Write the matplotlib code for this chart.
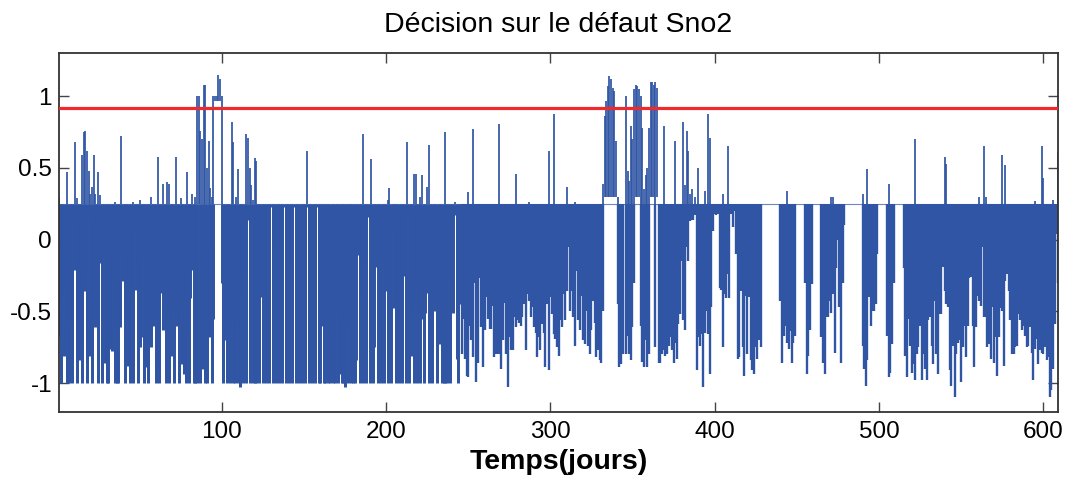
import numpy as np
import matplotlib
matplotlib.use("Agg")
import matplotlib.pyplot as plt

plt.rcParams['font.family'] = ['Liberation Sans', 'DejaVu Sans']
plt.rcParams['axes.unicode_minus'] = False

title = "Décision sur le défaut Sno2"
xlabel = "Temps(jours)"
BASE = 0.25
THRESHOLD = 0.92

# daily minimum of the decision signal (day 1 .. 609)
low = [
    -0.67, -1, -0.38, -0.81, -0.34, -1, -1, -0.57, -1, 0.15,
    -0.21, -1, -0.84, -0.68, -1, -0.36, -0.21, -1, 0.15, -0.81,
    -1, -0.54, -0.61, -0.33, -1, -0.16, -1, -0.10, -0.86, -1,
    -1, -0.76, -0.78, -0.24, -1, -1, -1, -0.61, -0.12, -0.29,
    -1, -0.52, -0.88, -1, -0.42, -1, 0.06, -0.35, -1, -0.75,
    -0.68, -0.13, -1, -0.89, -1, -0.68, -0.75, -0.6, -0.37, -1,
    -0.87, -1, -0.37, -0.63, -0.48, -1, -0.52, -1, -0.81, 0.13,
    -1, -0.53, -0.6, -1, -0.43, -0.87, -0.94, -1, -0.68, -1,
    -0.41, -0.21, -1, -1, -1, 0.25, -1, -0.9, -0.2, -1,
    -1, -0.68, -0.08, -1, -0.55, 0.97, 0.97, 0.97, 0.97, -0.3,
    -1, -0.7, -1, -0.66, -1, -0.58, -1, -1, 0.0, -1,
    -1.03, -0.39, -1, -0.21, -1, 0.14, -1, 0.19, -1, -1,
    -1, -0.56, -1, -0.4, -1, -0.38, -1, 0.23, -1, 0.23,
    -1, -0.07, -1, 0.23, -1, 0.23, -1, 0.23, -1, 0.23,
    -1, -0.14, -1, 0.23, -1, 0.23, -1, 0.23, -1, 0.23,
    -1, 0.23, -1, 0.23, -1, 0.23, -1, 0.23, -1, -1,
    -0.6, -1, -1, -0.86, -1, -1, -0.76, -1, -1, -0.52,
    -1, -0.94, -1, -1, -1.03, -0.38, -1, -0.61, -1, -1,
    -1, -0.84, -0.11, -1, -0.41, -1, -0.12, -1, 0.16, -1,
    -0.68, -1, -0.75, -0.19, -1, -0.6, -1, -0.19, -1, -0.36,
    -1, -0.51, -1, 0.06, -0.48, -1, -0.56, -1, -0.58, -1,
    -0.25, -1, 0.17, -1, -0.48, -0.81, -1, -0.32, -1, -0.48,
    -1, -0.55, -1, -0.51, -0.37, -1, -0.63, -1, -0.5, -0.22,
    -1, -0.59, -0.73, -1, -1, -1, -1, -0.26, -1, -0.34,
    -0.51, 0.17, -0.83, -1, -0.45, -0.8, -0.55, -0.83, -0.95, -0.96,
    -0.6, -0.7, -0.82, -0.3, -0.99, -0.86, -0.27, -0.61, -0.89, -0.63,
    -0.4, -0.55, -0.62, -0.62, -0.46, -0.82, -0.8, -0.8, -0.8, -0.9,
    -0.7, -0.44, -0.8, -1.03, -0.68, -0.77, -0.77, -0.54, -0.61, -0.56,
    -0.58, -0.6, -0.54, -0.45, -0.77, -0.38, -0.43, -0.54, -0.47, -0.61,
    -0.65, -0.82, -0.68, -0.77, -0.59, -0.65, -0.89, -0.45, -0.91, -0.4,
    -0.52, -0.66, -0.69, -0.75, -0.81, -0.56, -0.61, -0.38, -0.56, -0.36,
    -0.05, -0.5, -0.36, -0.54, -0.74, -0.22, -0.56, -0.63, -0.39, -0.7,
    -0.73, -0.5, -0.74, -0.8, -0.63, -0.43, -0.58, -0.82, -0.77, -0.84,
    -0.86, -0.5, 0.3, 0.3, 0.3, 0.3, 0.3, 0.3, 0.3, 0.3,
    -0.45, -0.89, -0.87, -0.8, 0.3, -0.8, -0.67, -0.8, -0.84, -0.61,
    -0.3, 0.3, 0.3, 0.3, -0.6, -0.85, -0.89, -0.7, -0.89, -0.8,
    0.3, 0.3, 0.3, -0.75, 0.3, -0.86, -0.86, -0.8, -0.77, -0.81,
    -0.8, -0.74, -0.68, -0.77, -0.86, -0.72, -0.83, -0.59, -0.52, -0.15,
    -0.56, -0.63, -0.05, -0.15, 0.13, 0.14, 0.14, 0.17, -0.91, -0.68,
    -0.74, -0.66, -1.03, -0.65, -0.5, -0.66, -0.94, -0.47, 0.06, 0.18,
    0.17, 0.18, -0.34, -0.35, -0.75, -0.38, -0.41, -0.24, -0.41, 0.18,
    0.09, 0.2, -0.1, -0.83, -0.82, -0.36, -0.75, -0.95, -0.39, -0.8,
    -0.4, -0.84, -0.91, -0.94, -0.75, -0.83, -0.7, -0.75, 0.25, 0.25,
    0.25, 0.25, 0.25, 0.25, 0.25, 0.25, 0.25, 0.25, 0.25, -0.43,
    -0.86, -0.67, -0.6, -0.72, -0.76, -0.64, -0.86, -0.72, -0.67, 0.25,
    0.25, 0.25, 0.25, 0.25, -0.3, -0.94, -0.81, -0.63, -0.31, 0.25,
    0.25, 0.25, 0.25, 0.25, -0.68, -0.86, -0.94, -0.54, -0.54, -0.43,
    -0.51, -0.38, -0.79, -0.2, 0.0, -0.47, -0.86, -0.3, 0.1, 0.25,
    0.25, 0.25, 0.25, 0.25, 0.25, 0.25, 0.25, 0.25, 0.25, -0.74,
    -0.9, -1.02, -0.84, -0.4, -0.6, -0.5, -0.5, -0.45, -0.1, 0.25,
    0.25, 0.25, 0.25, 0.25, -0.67, -0.96, -0.93, -0.73, -0.3, 0.25,
    0.25, 0.25, 0.25, 0.25, -0.2, -0.81, -0.96, -0.55, -0.74, -0.93,
    -0.87, -0.98, -0.8, -0.75, -0.6, -0.98, -0.8, -0.9, -0.98, -0.56,
    -0.54, -0.74, -0.87, -0.43, -0.8, -0.94, -0.52, -0.52, -0.19, -0.36,
    -0.45, -0.47, -0.91, -1.02, -0.74, -1.1, -0.8, -0.72, -0.7, -0.99,
    -0.75, -0.6, -0.82, -0.6, -0.27, -0.26, -0.6, -0.89, -0.61, -0.39,
    -0.43, -0.46, -0.05, -0.54, -0.54, -0.75, -0.73, -0.83, -0.47, -0.86,
    -0.68, -0.95, -0.68, -0.48, -0.5, -0.88, -0.29, -0.24, -0.36, -0.56,
    -0.8, -0.8, -0.75, -0.74, -0.52, -0.56, -0.63, -0.6, -0.67, -0.75,
    -0.74, -0.61, -0.79, -0.98, -0.76, -0.69, -0.87, -0.77, -0.79, -0.8,
    -0.75, -0.84, -0.82, -1.1, -1.05, -0.9, -0.59, 0.04, -0.3,
]

# days where the signal rises above its resting level, and the peak value
peak_day = [1, 6, 11, 12, 15, 16, 17, 18, 19, 20, 21, 22, 23, 25, 26, 35, 39, 46, 50, 57,
            61, 64, 67, 68, 72, 75, 79, 82,
            84, 85, 86, 87, 88, 89, 90, 91, 92, 93, 94, 95, 96, 97, 98, 99, 100,
            106, 107, 109, 110, 115, 116, 117, 118, 119, 120, 121, 152,
            186, 191, 201, 202, 213, 217, 218, 221, 222, 225, 226, 236, 242, 250, 253,
            269, 279, 287, 299, 302, 310, 315,
            332, 333, 334, 335, 336, 337, 338, 339, 340, 341,
            346, 347, 348, 349, 350, 351, 352, 353, 354, 355, 356, 357, 358, 359, 360,
            361, 362, 363, 364, 365,
            369, 376, 381, 382, 383, 384, 385, 386, 388, 390, 394, 396, 397, 405, 408,
            444, 471, 472, 490, 493, 506, 522,
            540, 541, 561, 564, 565, 575, 577, 595, 599, 600, 606, 609]
peak_val = [0.30, 0.47, 0.68, 0.29, 0.59, 0.75, 0.76, 0.62, 0.48, 0.32, 0.37, 0.59, 0.32, 0.47,
            0.31, 0.26, 0.72, 0.26, 0.28, 0.30, 0.58, 0.39, 0.40, 0.39, 0.58, 0.29, 0.47, 0.32,
            0.30, 1.00, 1.00, 0.76, 0.70, 1.08, 1.08, 0.50, 0.69, 0.36, 0.30, 1.00, 1.00, 1.00,
            1.15, 1.12, 1.00,
            0.82, 0.68, 0.30, 0.49, 0.74, 0.71, 0.50, 0.38, 0.28, 0.57, 0.55, 0.62,
            0.74, 0.56, 0.28, 0.36, 0.68, 0.46, 0.46, 0.30, 0.45, 0.37, 0.66, 0.75, 0.26, 0.33, 0.77,
            0.81, 0.46, 0.26, 0.62, 0.88, 0.37, 0.26,
            0.39, 0.86, 0.97, 1.07, 1.14, 1.12, 1.06, 1.04, 0.69, 0.30,
            1.00, 0.48, 0.41, 0.79, 0.70, 1.05, 1.08, 1.07, 1.05, 1.00, 0.78, 0.35, 0.45, 0.50, 0.78,
            1.10, 1.10, 1.08, 1.10, 1.06,
            0.79, 0.69, 0.82, 0.38, 0.76, 0.62, 0.32, 0.35, 0.30, 0.50, 0.34, 0.88, 0.71, 0.32, 0.65,
            0.34, 0.30, 0.30, 0.32, 0.49, 0.39, 0.70,
            0.58, 0.53, 0.30, 0.65, 0.30, 0.59, 0.52, 0.27, 0.65, 0.43, 0.28, 0.61]

xticks = [100, 200, 300, 400, 500, 600]
yticks = [-1, -0.5, 0, 0.5, 1]
ytick_labels = ["-1", "-0.5", "0", "0.5", "1"]

BLUE = "#2f55a4"
RED = "#ee2a2c"

days = np.arange(1, len(low) + 1)
low_arr = np.array(low, dtype=float)
high_arr = np.full(len(low), BASE)
for d, v in zip(peak_day, peak_val):
    high_arr[d - 1] = v

fig = plt.figure(figsize=(10.67, 4.78), dpi=100)
ax = fig.add_axes([0.0553, 0.1387, 0.9363, 0.7498])

ax.plot(days, np.full(len(days), BASE), color=BLUE, lw=0.8, alpha=0.7)

# part of each day below the resting level (dense fill)
down = low_arr < BASE
lw_down = np.where(days[down] <= 245, 2.15, 1.7)
ax.vlines(days[down], low_arr[down], BASE, colors=BLUE, linewidths=lw_down)
# part above the resting level (spikes and blocks)
top_start = np.maximum(low_arr, BASE)
up = high_arr > top_start
ax.vlines(days[up], top_start[up], high_arr[up], colors=BLUE, linewidths=1.25)

ax.axhline(THRESHOLD, color=RED, lw=2.3, zorder=5)

ax.set_xlim(1, 609)
ax.set_ylim(-1.2, 1.3)
ax.set_xticks(xticks)
ax.set_xticklabels([str(t) for t in xticks])
ax.set_yticks(yticks)
ax.set_yticklabels(ytick_labels)

ax.tick_params(direction='in', length=7, width=1.0, top=True, right=True,
               labelsize=17.5, color='#444444')
ax.tick_params(axis='x', pad=7)
ax.tick_params(axis='y', pad=5)
for sp in ax.spines.values():
    sp.set_color('#333333')
    sp.set_linewidth(1.3)

ax.set_title(title, fontsize=20.5, pad=15)
ax.set_xlabel(xlabel, fontsize=20.5, fontweight='bold', labelpad=4)

fig.savefig("out.png", dpi=100)
